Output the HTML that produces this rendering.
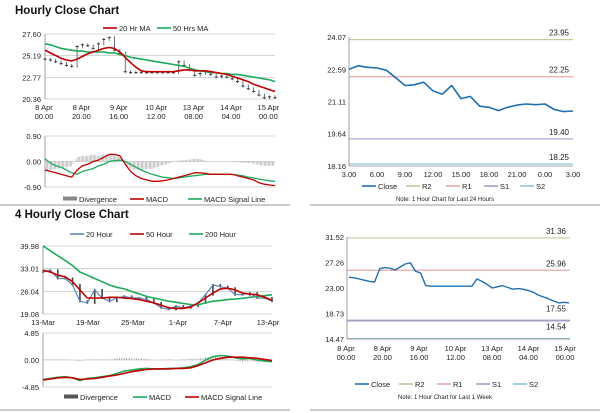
<!DOCTYPE html>
<html><head><meta charset="utf-8">
<style>
body{margin:0;background:#fff;width:600px;height:413px;overflow:hidden;font-family:"Liberation Sans",Arial,sans-serif}
svg{position:absolute;left:0;top:0}
</style></head>
<body>
<svg id="c" width="600" height="413" font-family="Liberation Sans, Arial, sans-serif" font-size="7.5"></svg>
<script>
// ---------- data ----------
const hourlyClose=[24.8,24.7,24.5,24.3,24.1,24.0,26.2,26.4,26.3,26.0,26.5,27.0,27.2,25.8,25.5,23.4,23.3,23.3,23.3,23.3,23.3,23.3,23.3,23.3,23.3,24.5,24.1,23.6,23.0,23.2,23.4,23.1,22.8,22.9,22.8,22.6,22.3,21.8,21.5,21.2,20.8,20.5,20.6,20.5];
const hourlyMA20=[25.8,25.5,25.2,24.9,24.7,24.6,24.8,25.1,25.4,25.6,25.8,26.0,26.1,26.0,25.6,25.0,24.4,23.9,23.5,23.4,23.4,23.4,23.4,23.4,23.4,23.5,23.6,23.6,23.5,23.5,23.5,23.4,23.3,23.2,23.1,22.9,22.7,22.5,22.3,22.0,21.8,21.6,21.4,21.2];
const hourlyMA50=[26.5,26.4,26.2,26.0,25.9,25.8,25.7,25.7,25.6,25.6,25.6,25.6,25.5,25.5,25.3,25.2,25.0,24.9,24.8,24.7,24.6,24.5,24.4,24.3,24.2,24.1,24.0,23.8,23.6,23.5,23.4,23.3,23.3,23.2,23.2,23.1,23.1,23.0,22.9,22.8,22.7,22.6,22.5,22.3];
const hourlyMACD=[-0.3,-0.35,-0.4,-0.45,-0.5,-0.55,-0.3,-0.15,-0.1,0.0,0.05,0.15,0.25,0.25,0.2,-0.1,-0.35,-0.5,-0.6,-0.65,-0.7,-0.7,-0.68,-0.65,-0.6,-0.55,-0.5,-0.45,-0.4,-0.4,-0.42,-0.45,-0.45,-0.45,-0.45,-0.45,-0.5,-0.55,-0.6,-0.65,-0.75,-0.8,-0.83,-0.85];
const hourlySignal=[0.1,-0.05,-0.15,-0.2,-0.3,-0.4,-0.45,-0.35,-0.3,-0.25,-0.15,-0.1,0.0,0.03,0.05,0.0,-0.1,-0.2,-0.3,-0.38,-0.45,-0.5,-0.55,-0.57,-0.6,-0.58,-0.55,-0.52,-0.5,-0.48,-0.45,-0.45,-0.45,-0.45,-0.45,-0.46,-0.48,-0.5,-0.55,-0.58,-0.62,-0.65,-0.68,-0.7];
const hourlyDiv=[-0.4,-0.3,-0.25,-0.25,-0.2,-0.15,0.15,0.2,0.2,0.25,0.2,0.25,0.25,0.22,0.15,-0.1,-0.25,-0.3,-0.3,-0.27,-0.25,-0.2,-0.13,-0.08,0.0,0.03,0.05,0.07,0.1,0.08,0.03,0.0,0.0,0.0,0.0,0.01,-0.02,-0.05,-0.05,-0.07,-0.13,-0.15,-0.15,-0.15];
const hourlyTicks=[["8 Apr","00.00"],["8 Apr","20.00"],["9 Apr","16.00"],["10 Apr","12.00"],["13 Apr","08.00"],["14 Apr","04.00"],["15 Apr","00.00"]];
const dayClose=[22.59,22.75,22.68,22.65,22.55,22.2,21.85,21.88,22.0,21.6,21.45,21.85,21.25,21.35,20.9,20.85,20.7,20.85,20.95,21.0,20.97,21.0,20.75,20.65,20.68];
const dayTicks=["3.00","6.00","9.00","12.00","15.00","18.00","21.00","0.00","3.00"];
const dayLevels=[23.95,22.25,19.40,18.25];
const weekLevels=[31.36,25.96,17.55,14.54];
const h4Price=[32,32.5,30,30,28,23,22.5,26.5,24,23,24,24.5,24,24,23.5,22.5,21,20.5,21.5,21,21.5,22.5,25,28,27.5,27,25,25,25.5,24,24,23];
const h4MA50=[32.5,32,31,30.5,29,26.5,24,24,24,24.2,24.2,24,23.8,23.5,23,22.5,21.8,21,20.8,20.8,21.2,22.5,24,25.5,26.8,27,26.5,25.5,25.2,25,24.2,23.3];
const h4MA200=[40,38.5,37,35.5,34,32,31,30,29,28,27.3,26.8,26,25.3,24.5,24,23.5,23,22.7,22.3,22,21.9,22.5,23,23.2,23.5,23.7,23.9,24.2,24.5,24.7,25];
const h4MACD=[-3.5,-3.3,-3.1,-3.0,-3.2,-3.7,-3.3,-3.2,-3.0,-2.8,-2.4,-2.0,-1.8,-1.6,-1.5,-1.6,-1.6,-1.5,-1.5,-1.4,-1.2,-0.8,0.0,0.6,0.8,0.7,0.4,0.2,0.3,0.0,-0.2,-0.3];
const h4Signal=[-3.6,-3.4,-3.2,-3.1,-3.2,-3.5,-3.4,-3.3,-3.1,-2.9,-2.7,-2.4,-2.1,-1.9,-1.7,-1.6,-1.6,-1.6,-1.5,-1.5,-1.4,-1.0,-0.5,0.0,0.3,0.5,0.5,0.5,0.4,0.3,0.1,-0.1];
const h4Div=[0.1,0.1,0.1,0.1,0.0,-0.2,0.1,0.1,0.1,0.1,0.3,0.4,0.3,0.3,0.2,0.0,0.0,0.1,0.0,0.1,0.2,0.2,0.5,0.6,0.5,0.2,-0.1,-0.3,-0.1,-0.3,-0.3,-0.2];
const h4Ticks=["13-Mar","19-Mar","25-Mar","1-Apr","7-Apr","13-Apr"];

// ---------- helpers ----------
const S=document.getElementById('c');const NS='http://www.w3.org/2000/svg';
function el(t,a,txt){const e=document.createElementNS(NS,t);for(const k in a)e.setAttribute(k,a[k]);if(txt!=null)e.textContent=txt;S.appendChild(e);return e;}
function lin(d0,d1,r0,r1){return v=>r0+(v-d0)/(d1-d0)*(r1-r0);}
function path(arr,xs,ys,col,w,name){let d=arr.map((v,i)=>(i?'L':'M')+xs(i).toFixed(1)+' '+ys(v).toFixed(1)).join('');const p=el('path',{d:d,fill:'none',stroke:col,'stroke-width':w,'stroke-linejoin':'round'});

return p;}
function txt(x,y,s,opt){const t=el('text',Object.assign({x:x,y:y,fill:'#222'},opt||{}),s);

return t;}
function hline(x1,x2,y,col,w){el('line',{x1:x1,x2:x2,y1:y,y2:y,stroke:col,'stroke-width':w||0.8});}
function legend(items,y){items.forEach(it=>{if(it[3]==='bar')el('rect',{x:it[0],y:y-2.5,width:14,height:4,fill:it[2]});else hline(it[0],it[0]+14,y,it[2],it[4]||1.6);txt(it[0]+16,y+3,it[1],{nm:'legend-entry'});});}
const GRID='#c8c8c8';

// separators
hline(0,290,205,'#999',1);hline(310,600,205,'#999',1);hline(0,290,410,'#999',1);hline(310,600,410,'#999',1);

// ===== Hourly Close Chart =====
txt(15,14,'Hourly Close Chart',{'font-size':11.5,'font-weight':'bold',fill:'#111',nm:'hourly-title'});
legend([[103,'20 Hr MA','#c00000'],[157,'50 Hrs MA','#1daa5a']],28);
{const x0=45,x1=275,ys=lin(20.36,27.60,99,34),xs=i=>x0+i*(x1-x0)/(hourlyClose.length-1);
[27.60,25.19,22.77,20.36].forEach(v=>{hline(x0,x1,ys(v),GRID);txt(x0-4,ys(v)+3,v.toFixed(2),{'text-anchor':'end',nm:'y-tick'});});
el('line',{x1:x0,x2:x0,y1:34,y2:99,stroke:'#888','stroke-width':0.8});
hourlyClose.forEach((v,i)=>{const x=xs(i);const p=i?hourlyClose[i-1]:v;el('line',{x1:x,x2:x,y1:ys(Math.max(v,p)+0.15),y2:ys(Math.min(v,p)-0.15),stroke:'#333','stroke-width':0.7});
el('line',{x1:x-1.5,x2:x+1.5,y1:ys(v),y2:ys(v),stroke:'#333','stroke-width':1});});
path(hourlyMA50,xs,ys,'#1daa5a',1.6,'ma50-line');path(hourlyMA20,xs,ys,'#c00000',1.6,'ma20-line');
hourlyTicks.forEach((t,i)=>{const x=44+i*37.4;txt(x,110,t[0],{'text-anchor':'middle',nm:'x-tick'});txt(x,119,t[1],{'text-anchor':'middle',nm:'x-tick'});});
const ym=lin(-0.9,0.9,187,136);
[0.90,0.00,-0.90].forEach(v=>{hline(x0,x1,ym(v),GRID);txt(x0-4,ym(v)+3,v.toFixed(2),{'text-anchor':'end',nm:'y-tick'});});
el('line',{x1:x0,x2:x0,y1:136,y2:187,stroke:'#888','stroke-width':0.8});
const xm=i=>x0+i*(x1-x0)/(hourlyDiv.length-1);
for(let k=0;k<hourlyDiv.length-1;k++)for(let s=0;s<4;s++){const x=xm(k)+s*(xm(1)-xm(0))/4;const v=hourlyDiv[k]+(hourlyDiv[k+1]-hourlyDiv[k])*s/4;el('line',{x1:x,x2:x,y1:ym(0),y2:ym(v),stroke:'#aaa','stroke-width':0.6});}
path(hourlySignal,xm,ym,'#1daa5a',1.3,'macd-signal-line');path(hourlyMACD,xm,ym,'#c00000',1.3,'macd-line');
legend([[63,'Divergence','#888','bar'],[130,'MACD','#c00000'],[188,'MACD Signal Line','#1daa5a']],199);}

// ===== Right top: last 24h =====
{const x0=349,x1=573,ys=lin(18.16,24.07,166,37),xs=i=>x0+i*(x1-x0)/(dayClose.length-1);
[24.07,22.59,21.11,19.64,18.16].forEach(v=>txt(x0-3,ys(v)+3,v.toFixed(2),{'text-anchor':'end',nm:'y-tick'}));
const lc=['#c9c79a','#e8a9a9','#a79cc8','#8ec8de'];
dayLevels.forEach((v,i)=>{hline(x0,x1,ys(v),lc[i],1.2);txt(x1-4,ys(v)-4,v.toFixed(2),{'text-anchor':'end','font-size':8,nm:'level-label'});});
el('line',{x1:x0,x2:x0,y1:37,y2:166,stroke:'#888','stroke-width':0.8});
el('line',{x1:x0,x2:x1,y1:166,y2:166,stroke:'#888','stroke-width':0.8});
path(dayClose,xs,ys,'#1f6fb0',1.6,'close-line');
dayTicks.forEach((t,i)=>txt(x0+i*28,177,t,{'text-anchor':'middle',nm:'x-tick'}));
legend([[362,'Close','#1f6fb0'],[406,'R2','#c9c79a'],[446,'R1','#e8a9a9'],[484,'S1','#a79cc8'],[520,'S2','#8ec8de']],186);
txt(445,201,'Note: 1 Hour Chart for Last 24 Hours',{'text-anchor':'middle','font-size':6,nm:'note'});}

// ===== 4 Hourly Close Chart =====
txt(15,218,'4 Hourly Close Chart',{'font-size':11.5,'font-weight':'bold',fill:'#111',nm:'four-hourly-title'});
legend([[70,'20 Hour','#5b86b8'],[130,'50 Hour','#c00000'],[189,'200 Hour','#1daa5a']],234);
{const x0=43,x1=272,ys=lin(19.08,39.98,314,246),xs=i=>x0+i*(x1-x0)/(h4Price.length-1);
[39.98,33.01,26.04,19.08].forEach(v=>{hline(x0,x1,ys(v),GRID);txt(x0-4,ys(v)+3,v.toFixed(2),{'text-anchor':'end',nm:'y-tick'});});
el('line',{x1:x0,x2:x0,y1:246,y2:314,stroke:'#888','stroke-width':0.8});
h4Price.forEach((v,i)=>{const x=xs(i);const p=i?h4Price[i-1]:v;el('rect',{x:x-0.8,y:ys(Math.max(v,p)+0.3),width:1.6,height:Math.max(1,ys(Math.min(v,p)-0.3)-ys(Math.max(v,p)+0.3)),fill:'#444'});});
path(h4MA200,xs,ys,'#1daa5a',1.6,'ma200-line');path(h4Price,xs,ys,'#5b86b8',1.2,'ma20-4h-line');path(h4MA50,xs,ys,'#c00000',1.6,'ma50-4h-line');
h4Ticks.forEach((t,i)=>txt(43+i*45,325,t,{'text-anchor':'middle',nm:'x-tick'}));
const ym=lin(-4.85,4.85,387,333);
[4.85,0.00,-4.85].forEach(v=>{hline(x0,x1,ym(v),GRID);txt(x0-4,ym(v)+3,v.toFixed(2),{'text-anchor':'end',nm:'y-tick'});});
el('line',{x1:x0,x2:x0,y1:333,y2:387,stroke:'#888','stroke-width':0.8});
for(let k=0;k<h4Div.length-1;k++)for(let s=0;s<3;s++){const x=xs(k)+s*(xs(1)-xs(0))/3;const v=h4Div[k]+(h4Div[k+1]-h4Div[k])*s/3;el('line',{x1:x,x2:x,y1:ym(0),y2:ym(v),stroke:'#888','stroke-width':0.7});}
path(h4MACD,xs,ym,'#1daa5a',1.6,'macd-4h-line');path(h4Signal,xs,ym,'#c00000',1.6,'signal-4h-line');
legend([[64,'Divergence','#555','bar'],[133,'MACD','#1daa5a'],[185,'MACD Signal Line','#c00000']],397);}

// ===== Right bottom: last week =====
{const x0=347,x1=570,ys=lin(14.47,31.52,339,237),xs=i=>x0+2+i*(x1-x0-3)/(hourlyClose.length-1);
[31.52,27.26,23.00,18.73,14.47].forEach(v=>txt(x0-3,ys(v)+3,v.toFixed(2),{'text-anchor':'end',nm:'y-tick'}));
const lc=['#c9c79a','#e8a9a9','#a79cc8','#8ec8de'];
weekLevels.forEach((v,i)=>{hline(x0,x1,ys(v),lc[i],i==2?1.8:1.2);txt(x1-4,ys(v)-4+(i>=2?-5:0),v.toFixed(2),{'text-anchor':'end','font-size':8,nm:'level-label'});});
el('line',{x1:x0,x2:x0,y1:237,y2:339,stroke:'#888','stroke-width':0.8});
el('line',{x1:x0,x2:x1,y1:339,y2:339,stroke:'#888','stroke-width':0.8});
path(hourlyClose,xs,ys,'#1f6fb0',1.4,'close-week-line');
hourlyTicks.forEach((t,i)=>{const x=346+i*36.5;txt(x,351,t[0],{'text-anchor':'middle',nm:'x-tick'});txt(x,360,t[1],{'text-anchor':'middle',nm:'x-tick'});});
legend([[355,'Close','#1f6fb0'],[399,'R2','#c9c79a'],[437,'R1','#e8a9a9'],[476,'S1','#a79cc8'],[513,'S2','#8ec8de']],384);
txt(445,399,'Note: 1 Hour Chart for Last 1 Week',{'text-anchor':'middle','font-size':6,nm:'note'});}
</script>
</body></html>
